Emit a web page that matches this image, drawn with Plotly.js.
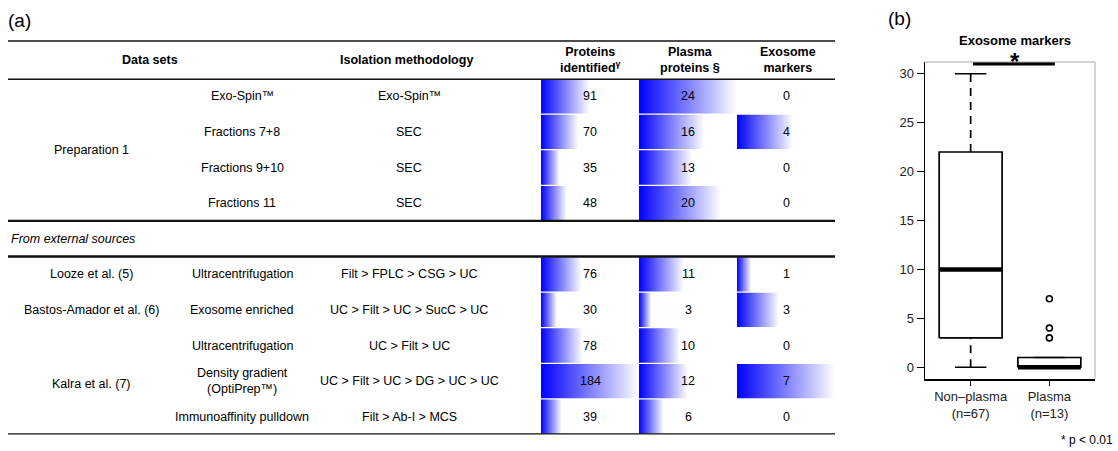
<!DOCTYPE html>
<html>
<head>
<meta charset="utf-8">
<script src="https://cdn.plot.ly/plotly-3.0.1.min.js"></script>
<style>html,body{margin:0;padding:0;background:#fff;}#chart{width:1118px;height:451px;}</style>
</head>
<body>
<div id="chart"></div>
<script>
// ---------- DATA: table (a) ----------
const rowPos      = [0, 1, 2, 3, 5, 6, 7, 8, 9];   // row 4 = "From external sources"
const subsets     = ['Exo-Spin\u2122', 'Fractions 7+8', 'Fractions 9+10', 'Fractions 11',
                     'Ultracentrifugation', 'Exosome enriched', 'Ultracentrifugation',
                     'Density gradient<br>(OptiPrep\u2122)', 'Immunoaffinity pulldown'];
const methods     = ['Exo-Spin\u2122', 'SEC', 'SEC', 'SEC',
                     'Filt &gt; FPLC &gt; CSG &gt; UC', 'UC &gt; Filt &gt; UC &gt; SucC &gt; UC',
                     'UC &gt; Filt &gt; UC', 'UC &gt; Filt &gt; UC &gt; DG &gt; UC &gt; UC',
                     'Filt &gt; Ab-I &gt; MCS'];
const proteins    = [91, 70, 35, 48, 76, 30, 78, 184, 39];
const plasmaProt  = [24, 16, 13, 20, 11, 3, 10, 12, 6];
const exoMarkers  = [0, 4, 0, 0, 1, 3, 0, 7, 0];
const groupLabels = ['Preparation 1', 'Looze et al. (5)', 'Bastos-Amador et al. (6)', 'Kalra et al. (7)'];
const groupFirst  = [0, 5, 6, 7];
const groupLast   = [3, 5, 6, 9];
const headers     = ['<b>Data sets</b>', '<b>Isolation methodology</b>', '<b>Proteins<br>identified<sup>γ</sup></b>',
                     '<b>Plasma<br>proteins §</b>', '<b>Exosome<br>markers</b>'];

// ---------- DATA: boxplot (b) ----------
const boxCats   = ['Non\u2013plasma<br>(n=67)', 'Plasma<br>(n=13)'];
const boxLower  = [0, 0];
const boxQ1     = [3, 0];
const boxMedian = [10, 0];
const boxQ3     = [22, 1];
const boxUpper  = [30, 1];
const boxOutliers = [[], [3, 4, 7]];
const yTicks    = [0, 5, 10, 15, 20, 25, 30];

// ---------- layout helpers ----------
const W = 1118, H = 451;
const px = x => x / W;
const py = y => 1 - y / H;
const FONT = 'Liberation Sans, Arial, Helvetica, sans-serif';
const fs = 12.5;

const traces = [];
const annotations = [];
const shapes = [];

// table data columns (x2, x3, x4) share y2
const numCols = [proteins, plasmaProt, exoMarkers];
const colEdges = [541, 639, 737, 835];
const colAxes = ['x2', 'x3', 'x4'];
const gap = 0.018;
numCols.forEach((vals, ci) => {
  vals.forEach((v, i) => {
    const r = rowPos[i];
    if (v > 0) {
      traces.push({
        type: 'scatter', xaxis: colAxes[ci], yaxis: 'y2',
        x: [0, v, v, 0, 0], y: [r + gap, r + gap, r + 1 - gap, r + 1 - gap, r + gap],
        mode: 'lines', line: {width: 0, color: 'rgba(0,0,0,0)'},
        fill: 'toself',
        fillgradient: {type: 'horizontal', colorscale: [[0, 'rgb(0,0,255)'], [1, 'rgb(255,255,255)']]},
        hoverinfo: 'skip', showlegend: false
      });
    }
    annotations.push({
      xref: 'paper', yref: 'y2', x: px((colEdges[ci] + colEdges[ci + 1]) / 2), y: r + 0.5,
      text: String(v), showarrow: false, xanchor: 'center', yanchor: 'middle',
      font: {family: FONT, size: fs, color: '#000'}
    });
  });
});

// row texts
rowPos.forEach((r, i) => {
  annotations.push({xref: 'paper', yref: 'y2', x: px(242), y: r + 0.5, text: subsets[i], showarrow: false,
    xanchor: 'center', yanchor: 'middle', font: {family: FONT, size: fs, color: '#000'}});
  annotations.push({xref: 'paper', yref: 'y2', x: px(409), y: r + 0.5, text: methods[i], showarrow: false,
    xanchor: 'center', yanchor: 'middle', font: {family: FONT, size: fs, color: '#000'}});
});
groupLabels.forEach((g, i) => {
  annotations.push({xref: 'paper', yref: 'y2', x: px(91), y: (groupFirst[i] + groupLast[i] + 1) / 2,
    text: g, showarrow: false, xanchor: 'center', yanchor: 'middle', yshift: groupLast[i] - groupFirst[i] === 2 ? -3 : 0,
    font: {family: FONT, size: fs, color: '#000'}});
});
annotations.push({xref: 'paper', yref: 'y2', x: px(9), y: 4.5, text: '<i>From external sources</i>',
  showarrow: false, xanchor: 'left', yanchor: 'middle', font: {family: FONT, size: fs, color: '#000'}});

// headers
const headerX = [150, 406, 590, 690, 788];
headers.forEach((h, i) => {
  annotations.push({xref: 'paper', yref: 'paper', x: px(headerX[i]), y: py(59.5), text: h, showarrow: false,
    xanchor: 'center', yanchor: 'middle', font: {family: FONT, size: fs, color: '#000'}});
});
annotations.push({xref: 'paper', yref: 'paper', x: px(6), y: py(21), text: '(a)', showarrow: false,
  xanchor: 'left', yanchor: 'middle', font: {family: FONT, size: 19, color: '#000'}});

// rules
shapes.push({type: 'line', xref: 'paper', yref: 'paper', x0: px(8), x1: px(835), y0: py(41), y1: py(41), line: {color: '#111', width: 1.6}});
[[0, 2.8], [4, 2.4], [5, 2.4], [10, 2.4]].forEach(([r, w]) => {
  shapes.push({type: 'line', xref: 'paper', yref: 'y2', x0: px(8), x1: px(835), y0: r, y1: r, line: {color: '#111', width: w}});
});

// ---------- boxplot ----------
const hw = 0.4, cw = 0.2;
boxCats.forEach((c, i) => {
  const x = i + 1;
  const blk = {color: '#000', width: 1.7};
  traces.push({type: 'scatter', x: [x - hw, x + hw, x + hw, x - hw, x - hw],
    y: [boxQ1[i], boxQ1[i], boxQ3[i], boxQ3[i], boxQ1[i]], mode: 'lines', line: blk,
    fill: 'toself', fillcolor: '#fff', hoverinfo: 'skip', showlegend: false, cliponaxis: false});
  traces.push({type: 'scatter', x: [x, x], y: [boxQ3[i], boxUpper[i]], mode: 'lines',
    line: {color: '#000', width: 1.7, dash: '8px,6px'}, hoverinfo: 'skip', showlegend: false});
  traces.push({type: 'scatter', x: [x, x], y: [boxLower[i], boxQ1[i]], mode: 'lines',
    line: {color: '#000', width: 1.7, dash: '8px,6px'}, hoverinfo: 'skip', showlegend: false});
  traces.push({type: 'scatter', x: [x - cw, x + cw], y: [boxUpper[i], boxUpper[i]], mode: 'lines',
    line: blk, hoverinfo: 'skip', showlegend: false});
  traces.push({type: 'scatter', x: [x - cw, x + cw], y: [boxLower[i], boxLower[i]], mode: 'lines',
    line: blk, hoverinfo: 'skip', showlegend: false});
  traces.push({type: 'scatter', x: [x - hw, x + hw], y: [boxMedian[i], boxMedian[i]], mode: 'lines',
    line: {color: '#000', width: 4.5}, hoverinfo: 'skip', showlegend: false});
  if (boxOutliers[i].length) {
    traces.push({type: 'scatter', x: boxOutliers[i].map(() => x), y: boxOutliers[i], mode: 'markers',
      marker: {symbol: 'circle-open', size: 6, color: '#000', line: {width: 1.6, color: '#000'}},
      hoverinfo: 'skip', showlegend: false});
  }
});

// significance bar and star (between the two categories)
const sigY = 31.05;
shapes.push({type: 'line', xref: 'x', yref: 'y', x0: 1 + 0.03, x1: 2 + 0.07, y0: sigY, y1: sigY, line: {color: '#000', width: 4}});
// frame top and right (grey)
shapes.push({type: 'line', xref: 'x domain', yref: 'y domain', x0: 0, x1: 1, y0: 1, y1: 1, line: {color: '#aaa', width: 1}});
shapes.push({type: 'line', xref: 'x domain', yref: 'y domain', x0: 1, x1: 1, y0: 0, y1: 1, line: {color: '#aaa', width: 1}});

annotations.push({xref: 'paper', yref: 'paper', x: px(1015), y: py(57), text: '<b>*</b>', showarrow: false,
  xanchor: 'center', yanchor: 'middle', yshift: -5, font: {family: FONT, size: 24, color: '#000'}});
annotations.push({xref: 'paper', yref: 'paper', x: px(1015), y: py(40), text: '<b>Exosome markers</b>', showarrow: false,
  xanchor: 'center', yanchor: 'middle', font: {family: FONT, size: 13, color: '#000'}});
annotations.push({xref: 'paper', yref: 'paper', x: px(886), y: py(19), text: '(b)', showarrow: false,
  xanchor: 'left', yanchor: 'middle', font: {family: FONT, size: 19, color: '#000'}});
annotations.push({xref: 'paper', yref: 'paper', x: px(1115), y: py(440), text: '* p &lt; 0.01', showarrow: false,
  xanchor: 'right', yanchor: 'middle', font: {family: FONT, size: 12, color: '#000'}});

const hiddenAx = d => ({domain: d, visible: false, fixedrange: true, showgrid: false, zeroline: false});
const layout = {
  width: W, height: H,
  margin: {l: 0, r: 0, t: 0, b: 0, pad: 0},
  paper_bgcolor: '#fff', plot_bgcolor: 'rgba(0,0,0,0)',
  showlegend: false,
  font: {family: FONT, size: 13, color: '#000'},
  xaxis: {domain: [px(925), px(1095)], range: [0.42, 2.58], tickvals: [1, 2], ticktext: boxCats,
    ticks: 'outside', ticklen: 5, tickwidth: 1.2, tickcolor: '#000', showline: true, linecolor: '#000', linewidth: 1.5,
    showgrid: false, zeroline: false, tickfont: {family: FONT, size: 13, color: '#222'}, fixedrange: true},
  yaxis: {domain: [py(379), py(62)], range: [-1.2, 31.2], tickvals: yTicks, ticks: 'outside', ticklen: 7,
    tickwidth: 1.2, tickcolor: '#000', showline: true, linecolor: '#000', linewidth: 1.5,
    showgrid: false, zeroline: false, tickfont: {family: FONT, size: 13, color: '#222'}, fixedrange: true},
  xaxis2: Object.assign(hiddenAx([px(colEdges[0]), px(colEdges[1])]), {range: [0, Math.max(...proteins)], anchor: 'y2'}),
  xaxis3: Object.assign(hiddenAx([px(colEdges[1]), px(colEdges[2])]), {range: [0, Math.max(...plasmaProt)], anchor: 'y2'}),
  xaxis4: Object.assign(hiddenAx([px(colEdges[2]), px(colEdges[3])]), {range: [0, Math.max(...exoMarkers)], anchor: 'y2'}),
  yaxis2: Object.assign(hiddenAx([py(434.5), py(78.5)]), {range: [10, 0], anchor: 'x2'}),
  annotations: annotations,
  shapes: shapes
};

Plotly.newPlot('chart', traces, layout, {displayModeBar: false, staticPlot: true});
</script>
</body>
</html>
